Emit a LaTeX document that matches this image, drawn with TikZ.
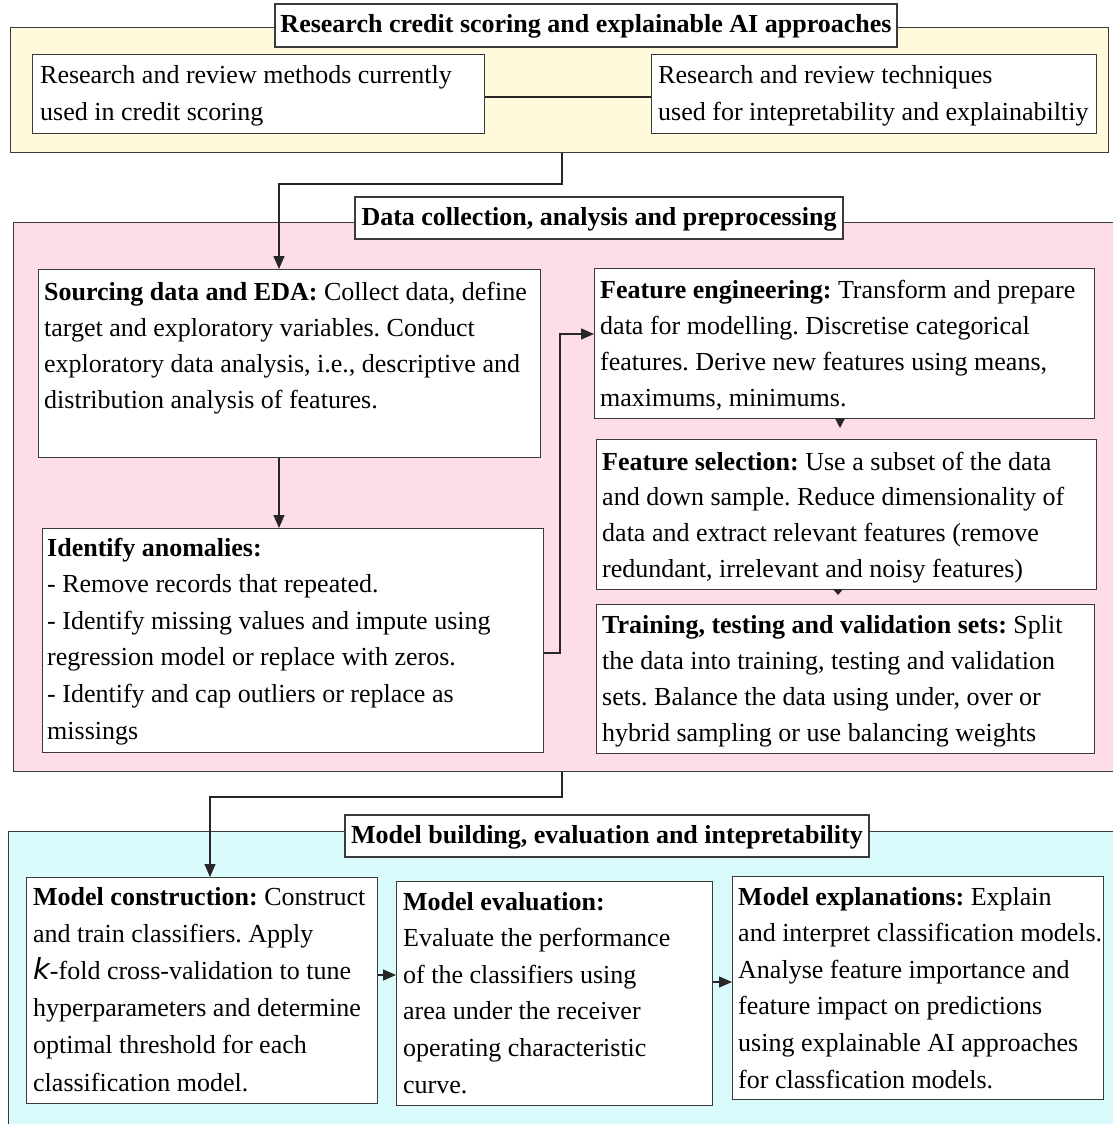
\documentclass[tikz,border=0pt]{standalone}
\usepackage{fontspec}
\setmainfont{Liberation Serif}
\newfontfamily\kfont{DejaVu Sans}
\usetikzlibrary{arrows.meta}

\definecolor{stageY}{HTML}{FFFADB}
\definecolor{stageP}{HTML}{FDDDE9}
\definecolor{stageC}{HTML}{DAFBFC}
\definecolor{edge}{HTML}{3A3A3A}

% left-aligned lines with a fixed baseline pitch; baseline = first line
\newcommand\tlines[2][36.5pt]{\vtop{\baselineskip=#1\relax\lineskiplimit=-30pt\halign{##\hfil\cr#2\crcr}}}

\begin{document}
\frenchspacing
\begin{tikzpicture}[x=1pt,y=-1pt,
  font=\fontsize{26}{36}\selectfont\frenchspacing,
  stage/.style={draw=edge, line width=1.3pt, rectangle, inner sep=0pt, anchor=north west},
  box/.style={draw=edge, line width=1.3pt, fill=white, rectangle, inner sep=0pt, anchor=north west},
  titlebox/.style={draw=edge, line width=1.3pt, fill=white, rectangle, inner sep=0pt,
                   text height=18pt, text depth=3pt, font=\fontsize{26}{36}\selectfont\bfseries},
  txt/.style={inner sep=0pt, anchor=base west},
  conn/.style={draw=black!85, line width=1.2pt},
  arr/.style={conn, -{Triangle[length=13pt,width=11pt]}},
  smallarr/.style={conn, -{Triangle[length=#1,width=10pt]}}]

\fill[white] (0,0) rectangle (1113,1124);
\useasboundingbox (0,0) rectangle (1113,1124);

% ---- stage frames ----
\node[stage, fill=stageY, minimum width=1098pt, minimum height=125pt] (stage1) at (10,27) {};
\node[stage, fill=stageP, minimum width=1117pt, minimum height=549pt] (stage2) at (13,222) {};
\node[stage, fill=stageC, minimum width=1122pt, minimum height=309pt] (stage3) at (8,831) {};

% ---- connectors between stages ----
\coordinate (j1) at (562,184);
\coordinate (j2) at (279,184);
\draw[arr] (stage1.south -| j1) -- (j1) -- (j2) -- (j2 |- 0,269);

\coordinate (j7) at (562,797);
\coordinate (j8) at (210,797);

% ---- stage titles ----
\node[titlebox, minimum width=622pt, minimum height=43pt] (t1) at (586,25.5) {Research credit scoring and explainable AI approaches};
\node[titlebox, minimum width=488pt, minimum height=42pt] (t2) at (599,218) {Data collection, analysis and preprocessing};
\node[titlebox, minimum width=524pt, minimum height=42pt] (t3) at (607,836) {Model building, evaluation and intepretability};

% ---- stage 1 ----
\node[box, minimum width=452pt, minimum height=79pt] (l1) at (32,54) {};
\node[box, minimum width=445pt, minimum height=79pt] (r1) at (651,54) {};
\node[txt] (l1t) at (40,83) {\tlines[37pt]{Research and review methods currently\cr used in credit scoring}};
\node[txt] (r1t) at (658,83) {\tlines[37pt]{Research and review techniques\cr used for intepretability and explainabiltiy}};
\coordinate (j0) at (0,97);
\draw[conn] (l1.east |- j0) -- (r1.west |- j0);

% ---- stage 2 ----
\node[box, minimum width=502pt, minimum height=188pt] (src) at (38,269) {};
\node[box, minimum width=501pt, minimum height=224pt] (anom) at (42,528) {};
\node[box, minimum width=500pt, minimum height=150pt] (fe) at (594,268) {};
\node[box, minimum width=500pt, minimum height=150pt] (fs) at (596,439) {};
\node[box, minimum width=498pt, minimum height=149pt] (tr) at (596,604) {};

\node[txt] (srct) at (44,300) {\tlines[36pt]{\textbf{Sourcing data and EDA:} Collect data, define\cr
target and exploratory variables. Conduct\cr
exploratory data analysis, i.e., descriptive and\cr
distribution analysis of features.}};
\node[txt] (anomt) at (47,556) {\tlines[36.6pt]{\textbf{Identify anomalies:}\cr
- Remove records that repeated.\cr
- Identify missing values and impute using\cr
regression model or replace with zeros.\cr
- Identify and cap outliers or replace as\cr
missings}};
\node[txt] (fet) at (600,298) {\tlines[36pt]{\textbf{Feature engineering:} Transform and prepare\cr
data for modelling. Discretise categorical\cr
features. Derive new features using means,\cr
maximums, minimums.}};
\node[txt] (fst) at (602,470) {\tlines[35.7pt]{\textbf{Feature selection:} Use a subset of the data\cr
and down sample. Reduce dimensionality of\cr
data and extract relevant features (remove\cr
redundant, irrelevant and noisy features)}};
\node[txt] (trt) at (602,633) {\tlines[36pt]{\textbf{Training, testing and validation sets:} Split\cr
the data into training, testing and validation\cr
sets. Balance the data using under, over or\cr
hybrid sampling or use balancing weights}};

\draw[arr] (src.south -| j2) -- (anom.north -| j2);
\coordinate (j3) at (560,653);
\coordinate (j4) at (560,334);
\draw[arr] (anom.east |- j3) -- (j3) -- (j4) -- (fe.west |- j4);
\coordinate (j5) at (840,0);
\draw[smallarr=10pt, shorten >=11pt] (fe.south -| j5) -- (fs.north -| j5);
\coordinate (j6) at (838,0);
\draw[smallarr=6pt, shorten >=9pt] (fs.south -| j6) -- (tr.north -| j6);

\draw[arr] (stage2.south -| j7) -- (j7) -- (j8) -- (j8 |- 0,877);

% ---- stage 3 ----
\node[box, minimum width=351pt, minimum height=226pt] (mc) at (26,877) {};
\node[box, minimum width=316pt, minimum height=224pt] (me) at (396,881) {};
\node[box, minimum width=371pt, minimum height=223pt] (mx) at (732,876) {};

\node[txt] (mct) at (33,905) {\tlines[37.2pt]{\textbf{Model construction:} Construct\cr
and train classifiers. Apply\cr
{\kfont\itshape\fontsize{29}{36}\selectfont k}-fold cross-validation to tune\cr
hyperparameters and determine\cr
optimal threshold for each\cr
classification model.}};
\node[txt] (met) at (403,910) {\tlines[36.6pt]{\textbf{Model evaluation:}\cr
Evaluate the performance\cr
of the classifiers using\cr
area under the receiver\cr
operating characteristic\cr
curve.}};
\node[txt] (mxt) at (738,905) {\tlines[36.6pt]{\textbf{Model explanations:} Explain\cr
and interpret classification models.\cr
Analyse feature importance and\cr
feature impact on predictions\cr
using explainable AI approaches\cr
for classfication models.}};

\coordinate (j9) at (0,975);
\draw[arr] (mc.east |- j9) -- (me.west |- j9);
\coordinate (j10) at (0,982);
\draw[arr] (me.east |- j10) -- (mx.west |- j10);
\end{tikzpicture}
\end{document}
